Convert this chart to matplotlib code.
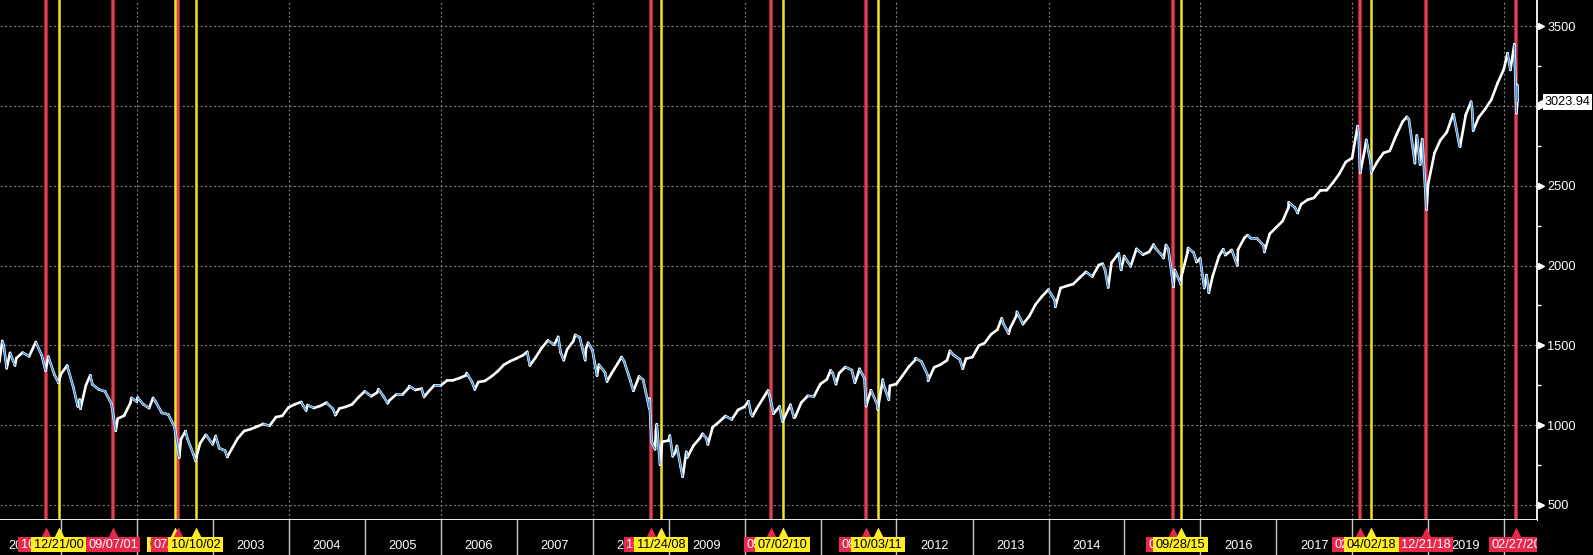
import matplotlib
matplotlib.use("Agg")
import matplotlib.pyplot as plt
import matplotlib.dates as mdates
from matplotlib.collections import LineCollection
from matplotlib.patches import Rectangle
import numpy as np
import pandas as pd

# ---------------- data ----------------
# S&P 500 month-end closes, Mar 2000 .. Feb 2020
monthly_close = [
    1498.58, 1452.43, 1420.60, 1454.60, 1430.83, 1517.68, 1436.51, 1429.40, 1314.95, 1320.28,
    1366.01, 1239.94, 1160.33, 1249.46, 1255.82, 1224.42, 1211.23, 1133.58, 1040.94, 1059.78, 1139.45, 1148.08,
    1130.20, 1106.73, 1147.39, 1076.92, 1067.14, 989.82, 911.62, 916.07, 815.28, 885.76, 936.31, 879.82,
    855.70, 841.15, 848.18, 916.92, 963.59, 974.50, 990.31, 1008.01, 995.97, 1050.71, 1058.20, 1111.92,
    1131.13, 1144.94, 1126.21, 1107.30, 1120.68, 1140.84, 1101.72, 1104.24, 1114.58, 1130.20, 1173.82, 1211.92,
    1181.27, 1203.60, 1180.59, 1156.85, 1191.50, 1191.33, 1234.18, 1220.33, 1228.81, 1207.01, 1249.48, 1248.29,
    1280.08, 1280.66, 1294.83, 1310.61, 1270.09, 1270.20, 1276.66, 1303.82, 1335.85, 1377.94, 1400.63, 1418.30,
    1438.24, 1406.82, 1420.86, 1482.37, 1530.62, 1503.35, 1455.27, 1473.99, 1526.75, 1549.38, 1481.14, 1468.36,
    1378.55, 1330.63, 1322.70, 1385.59, 1400.38, 1280.00, 1267.38, 1282.83, 1166.36, 968.75, 896.24, 903.25,
    825.88, 735.09, 797.87, 872.81, 919.14, 919.32, 987.48, 1020.62, 1057.08, 1036.19, 1095.63, 1115.10,
    1073.87, 1104.49, 1169.43, 1186.69, 1089.41, 1030.71, 1101.60, 1049.33, 1141.20, 1183.26, 1180.55, 1257.64,
    1286.12, 1327.22, 1325.83, 1363.61, 1345.20, 1320.64, 1292.28, 1218.89, 1131.42, 1253.30, 1246.96, 1257.60,
    1312.41, 1365.68, 1408.47, 1397.91, 1310.33, 1362.16, 1379.32, 1406.58, 1440.67, 1412.16, 1416.18, 1426.19,
    1498.11, 1514.68, 1569.19, 1597.57, 1630.74, 1606.28, 1685.73, 1632.97, 1681.55, 1756.54, 1805.81, 1848.36,
    1782.59, 1859.45, 1872.34, 1883.95, 1923.57, 1960.23, 1930.67, 2003.37, 1972.29, 2018.05, 2067.56, 2058.90,
    1994.99, 2104.50, 2067.89, 2085.51, 2107.39, 2063.11, 2103.84, 1972.18, 1920.03, 2079.36, 2080.41, 2043.94,
    1940.24, 1932.23, 2059.74, 2065.30, 2096.95, 2098.86, 2173.60, 2170.95, 2168.27, 2126.15, 2198.81, 2238.83,
    2278.87, 2363.64, 2362.72, 2384.20, 2411.80, 2423.41, 2470.30, 2471.65, 2519.36, 2575.26, 2647.58, 2673.61,
    2823.81, 2713.83, 2640.87, 2648.05, 2705.27, 2718.37, 2816.29, 2901.52, 2913.98, 2711.74, 2760.17, 2506.85,
    2704.10, 2784.49, 2834.40, 2945.83, 2752.06, 2941.76, 2980.38, 2926.46, 2976.74, 3037.56, 3140.98, 3230.78,
    3225.52, 2954.22,
]
monthly_first_date = "2000-03-31"

# intra-month swing highs / lows
swing_dates = [
    "2000-03-10", "2000-03-24", "2000-04-14", "2000-05-24", "2000-09-01", "2000-10-18", "2000-12-20",
    "2001-01-30", "2001-03-22", "2001-04-04", "2001-05-21", "2001-09-21", "2001-12-05",
    "2002-01-04", "2002-03-19", "2002-07-23", "2002-08-22", "2002-10-09", "2002-11-27",
    "2003-01-14", "2003-03-11", "2004-03-24", "2004-08-12", "2005-03-07", "2005-04-20",
    "2005-08-02", "2005-10-12", "2006-05-05", "2006-06-13", "2007-02-20", "2007-03-05",
    "2007-07-19", "2007-08-15", "2007-10-09", "2007-11-26", "2007-12-10", "2008-01-22",
    "2008-03-10", "2008-05-19", "2008-07-15", "2008-08-11", "2008-09-29", "2008-10-10",
    "2008-10-27", "2008-11-04", "2008-11-20", "2009-01-06", "2009-01-20", "2009-02-09",
    "2009-03-09", "2009-03-26", "2009-06-12", "2009-07-08", "2010-01-19", "2010-02-08",
    "2010-04-23", "2010-05-20", "2010-06-18", "2010-07-02", "2010-08-09", "2010-08-26",
    "2011-02-18", "2011-03-16", "2011-06-15", "2011-07-07", "2011-08-08", "2011-10-03",
    "2011-10-27", "2011-11-25", "2012-04-02", "2012-06-01", "2012-09-14", "2012-11-15",
    "2013-05-21", "2013-06-24", "2013-08-02", "2014-02-03", "2014-09-18", "2014-10-15",
    "2014-12-05", "2014-12-16", "2015-05-21", "2015-07-08", "2015-07-20", "2015-08-25",
    "2015-09-29", "2015-11-03", "2015-12-14", "2016-01-20", "2016-02-11", "2016-04-20",
    "2016-06-27", "2016-08-15", "2016-11-04", "2017-03-01", "2017-04-13", "2018-01-26",
    "2018-02-08", "2018-03-09", "2018-04-02", "2018-09-20", "2018-10-29", "2018-11-07",
    "2018-11-23", "2018-12-03", "2018-12-24", "2019-05-03", "2019-06-03", "2019-07-26",
    "2019-08-05", "2020-01-17", "2020-02-19", "2020-03-03", "2020-03-04", "2020-03-05",
]
swing_values = [
    1395.07, 1527.46, 1356.56, 1373.86, 1520.77, 1342.13, 1264.74,
    1373.73, 1117.58, 1103.25, 1312.83, 965.80, 1170.35,
    1172.51, 1170.29, 797.70, 962.70, 776.76, 938.87,
    931.66, 800.73, 1091.33, 1063.23, 1225.31, 1137.50,
    1245.04, 1176.84, 1325.76, 1223.69, 1459.68, 1374.12,
    1553.08, 1406.70, 1565.15, 1407.22, 1515.96, 1310.50,
    1273.37, 1426.63, 1214.91, 1305.32, 1106.39, 899.22,
    848.92, 1005.75, 752.44, 934.70, 805.22, 869.89,
    676.53, 832.86, 946.21, 879.13, 1150.23, 1056.74,
    1217.28, 1071.59, 1117.51, 1022.58, 1127.79, 1047.22,
    1343.01, 1256.88, 1265.42, 1353.22, 1119.46, 1099.23,
    1284.59, 1158.67, 1419.04, 1278.04, 1465.77, 1353.33,
    1669.16, 1573.09, 1709.67, 1741.89, 2011.36, 1862.49,
    2075.37, 1972.74, 2130.82, 2046.68, 2128.28, 1867.61,
    1884.09, 2109.79, 2021.94, 1859.33, 1829.08, 2102.40,
    2000.54, 2190.15, 2085.18, 2395.96, 2328.95, 2872.87,
    2581.00, 2786.57, 2581.88, 2930.75, 2641.25, 2813.89,
    2632.56, 2790.37, 2351.10, 2945.64, 2744.45, 3025.86,
    2844.74, 3329.62, 3386.15, 3003.37, 3130.12, 3023.94,
]

red_signal_dates = ["2000-10-18", "2001-09-07", "2002-07-19", "2008-10-08", "2010-05-07",
                    "2011-08-08", "2015-08-24", "2018-02-05", "2018-12-21", "2020-02-27"]
yellow_signal_dates = ["2000-12-21", "2002-07-01", "2002-10-10", "2008-11-24", "2010-07-02",
                       "2011-10-03", "2015-09-28", "2018-04-02"]

year_labels = [str(y) for y in range(2000, 2021)]
y_ticks = [500, 1000, 1500, 2000, 2500, 3000, 3500]
y_minor_ticks = [750, 1250, 1750, 2250, 2750, 3250]
last_price = 3023.94

# ---------------- style ----------------
plt.rcParams["font.family"] = ["Liberation Sans", "DejaVu Sans"]

RED = "#e8284a"
RED_LINE_OUT = "#9e2433"
RED_LINE_IN = "#e0475a"
YELLOW = "#ffee22"
GRID = "#7a7a7a"
BLUE = "#3b8ddb"
FS = 9.2

W, H = 1593, 555
fig = plt.figure(figsize=(W / 100, H / 100), dpi=100, facecolor="black")
right_frac = 1537 / W
bottom_frac = 35 / H
ax = fig.add_axes([0, bottom_frac, right_frac, 1 - bottom_frac], facecolor="black")
axb = fig.add_axes([0, 0, right_frac, bottom_frac], facecolor="black")

x0 = mdates.date2num(pd.Timestamp("2000-03-13"))
x1 = mdates.date2num(pd.Timestamp("2020-06-07"))
for a in (ax, axb):
    a.set_xlim(x0, x1)

# ---------------- price series ----------------
m_dates = pd.date_range(monthly_first_date, periods=len(monthly_close), freq=pd.offsets.MonthEnd())
s = pd.concat([pd.Series(monthly_close, index=m_dates),
               pd.Series(swing_values, index=pd.to_datetime(swing_dates))]).sort_index()
s = s[~s.index.duplicated(keep="last")]
xs = mdates.date2num(s.index.to_pydatetime())
ys = s.values.astype(float)
pts = np.column_stack([xs, ys])
segs = np.stack([pts[:-1], pts[1:]], axis=1)
down = ys[1:] < ys[:-1]

ax.add_collection(LineCollection(segs, colors="white", linewidths=1.9, zorder=4,
                                 capstyle="round", joinstyle="round"))
ax.add_collection(LineCollection(segs[down], colors=BLUE, linewidths=1.0, zorder=5))

ax.set_ylim(406, 3663)

# ---------------- grid ----------------
for v in y_ticks:
    ax.axhline(v, color=GRID, lw=0.8, ls=(0, (2, 2)), zorder=1)
for yr in range(2002, 2021, 2):
    ax.axvline(mdates.date2num(pd.Timestamp(f"{yr}-01-01")), color=GRID, lw=0.8, ls=(0, (2, 2)), zorder=1)

# ---------------- signal lines ----------------
for d in red_signal_dates:
    xd = mdates.date2num(pd.Timestamp(d))
    ax.axvline(xd, color=RED_LINE_OUT, lw=3.0, zorder=2)
    ax.axvline(xd, color=RED_LINE_IN, lw=1.3, zorder=2.1)
for d in yellow_signal_dates:
    xd = mdates.date2num(pd.Timestamp(d))
    ax.axvline(xd, color="#f2e41c", lw=1.8, zorder=2.2)

# ---------------- axes styling ----------------
for sp in ("top", "left"):
    ax.spines[sp].set_visible(False)
for sp in ("right", "bottom"):
    ax.spines[sp].set_color("white")
    ax.spines[sp].set_linewidth(1.3)
ax.yaxis.tick_right()
ax.set_yticks(y_ticks)
ax.set_yticklabels([str(v) for v in y_ticks])
ax.set_yticks(y_minor_ticks, minor=True)
ax.tick_params(axis="y", which="major", length=0, pad=7.5, labelsize=FS, labelcolor="white")
ax.tick_params(axis="y", which="minor", length=3, width=1, color="white")
ax.tick_params(axis="x", which="both", length=0, labelbottom=False)
ax.set_xticks([])

ytr = ax.get_yaxis_transform()
for v in y_ticks:
    ax.plot([1 + 3.5 / 1537], [v], marker=">", ms=4.5, color="white", transform=ytr,
            clip_on=False, zorder=6)

# last price tag
ax.plot([1 + 4.5 / 1537], [last_price], marker="<", ms=7.5, color="white", mec="none",
        transform=ytr, clip_on=False, zorder=6)
ax.text(1 + 8 / 1537, last_price, f"{last_price:.2f}", transform=ytr, ha="left", va="center",
        fontsize=FS, color="black", clip_on=False, zorder=7,
        bbox=dict(boxstyle="square,pad=0.12", fc="white", ec="none"))

# ---------------- bottom date strip ----------------
for a in axb.spines.values():
    a.set_visible(False)
axb.set_ylim(0, 1)
axb.set_xticks([])
axb.set_yticks([])
for yr in range(2001, 2021):
    axb.axvline(mdates.date2num(pd.Timestamp(f"{yr}-01-01")), color="#c8c8c8", lw=1, zorder=1)
for lab in year_labels:
    xm = mdates.date2num(pd.Timestamp(f"{lab}-07-02"))
    axb.text(xm, 0.25, lab, ha="center", va="center", color="white", fontsize=FS,
             clip_on=True, zorder=2)

events = sorted([(pd.Timestamp(d), "r") for d in red_signal_dates] +
                [(pd.Timestamp(d), "y") for d in yellow_signal_dates])
label_items = []
for i, (d, c) in enumerate(events):
    xd = mdates.date2num(d)
    bg = RED if c == "r" else YELLOW
    fg = "white" if c == "r" else "black"
    z = 10 + 2 * i
    axb.plot([xd], [0.66], marker="^", ms=7, color=bg, mec="none", clip_on=False, zorder=z)
    t = axb.text(xd, 0.29, d.strftime("%m/%d/%y"), ha="center", va="center", color=fg,
                 fontsize=FS, clip_on=True, zorder=z + 1)
    label_items.append((t, bg, z))

fig.canvas.draw()
rend = fig.canvas.get_renderer()
inv = axb.transData.inverted()
box_y0, box_y1 = 0.08, 0.51
for t, bg, z in label_items:
    bb = t.get_window_extent(rend)
    xa = inv.transform((bb.x0 - 2.5, 0))[0]
    xb = inv.transform((bb.x1 + 2.5, 0))[0]
    axb.add_patch(Rectangle((xa, box_y0), xb - xa, box_y1 - box_y0, fc=bg, ec="none",
                            zorder=z, clip_on=True))

fig.savefig("out.png", dpi=100, facecolor="black")
